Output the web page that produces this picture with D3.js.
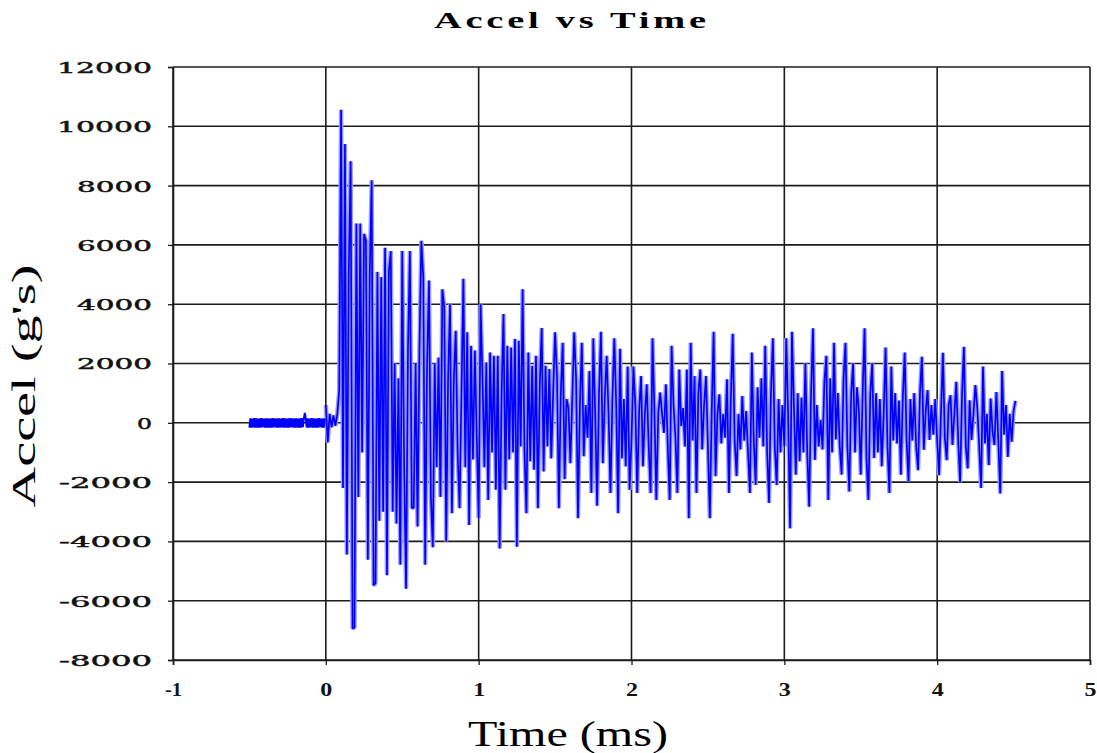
<!DOCTYPE html>
<html><head><meta charset="utf-8">
<script src="https://cdn.jsdelivr.net/npm/d3@7"></script>
<style>body{margin:0;background:#fff}svg{display:block}</style>
</head><body>
<svg id="chart" width="1097" height="753"></svg>
<script>
const chartTitle = "Accel vs Time";
const xLabel = "Time (ms)";
const yLabel = "Accel (g's)";
const xTicks = [-1, 0, 1, 2, 3, 4, 5];
const yTicks = [-8000, -6000, -4000, -2000, 0, 2000, 4000, 6000, 8000, 10000, 12000];

// pre-trigger noise, -0.5 .. 0 ms
const preTriggerStart = -0.5;      // ms
const preTriggerInterval = 0.00625; // ms
const preTrigger = [
 -160,150,-165,145,-155,160,-165,150,-160,145,
 -165,150,-160,160,-150,145,-165,150,-160,150,
 -165,145,-160,150,-165,160,-150,145,-160,150,
 -160,150,-165,145,-155,160,-165,150,-160,145,
 -165,150,-160,160,-150,145,-165,150,-160,150,
 -165,145,-160,150,-165,160,-150,145,330,150,
 -160,150,-165,145,-155,160,-165,150,-160,145,
 -165,150,-160,160,-150,145,-165,150,-160,150
];

// response, 0 .. 4.51 ms (8 samples per 0.1 ms)
const responseStart = 0;          // ms
const responseInterval = 0.0125;  // ms
const response = [
 600,-660,300,-150,250,-100,300,1080,
 10560,-2200,9400,-4440,5090,8820,-6940,-6900,
 6720,-2500,6720,-1000,6370,6140,-4620,5090,
 8180,-5490,-5400,5090,-3300,4920,-3000,5900,
 -5140,5090,5790,-3000,2000,-3400,1500,-4790,
 5790,-1500,-5600,2500,5790,-2870,-2870,2000,
 -3500,2500,6140,4920,-4790,2000,4800,-2500,
 -4200,2000,-1500,2200,-2500,4500,3900,-4000,
 1500,4000,-3050,1500,3100,-1000,-2880,1000,
 4860,-1500,3050,-3450,2600,-1240,2440,-500,
 -3220,4000,1580,-1500,2030,-2600,2370,-1000,
 2260,-2260,2260,-4240,1000,3670,-2260,2600,
 -1240,2540,-1000,2830,-4180,2770,-800,4500,
 -1000,-3050,2370,-1300,1920,-1580,2260,-2880,
 1300,3200,-1640,1920,-800,1810,-1200,1020,
 3050,1580,-2880,1000,2700,-1900,800,500,
 -1360,800,3050,1470,-3220,600,2700,-1130,
 600,-500,1750,-2370,2850,300,-2800,1000,
 3070,-1360,800,2260,300,-2370,800,2850,
 600,-3050,2500,-1200,800,-1470,1900,-2260,
 -600,1900,600,-2370,400,1580,-1470,300,
 1300,-800,-2370,2850,400,-2600,300,1020,
 300,-340,1300,-800,-2600,2600,600,-500,
 -2370,1800,-110,500,-800,1800,-3220,2700,
 -600,1580,-2370,1000,1800,-900,600,1580,
 -800,-3220,400,3070,-1800,300,960,-700,
 300,-500,1470,-2370,800,3000,-600,-1800,
 300,-900,900,-600,400,-1000,-2370,2370,
 -600,-2100,1200,-500,1500,-800,2600,-1000,
 -2700,1000,2850,-800,-2100,800,-1000,600,
 -800,2850,200,-3560,3070,600,-1750,1000,
 -1300,850,-1000,2000,-1000,-2830,1000,3190,
 -1250,600,-800,100,-900,1400,2260,-2600,
 1500,-1000,2700,-560,1000,-800,-1750,1500,
 2700,-800,-2320,1000,2000,-1000,1200,450,
 -1750,1000,3190,-1200,-2600,1000,2000,-1190,
 1000,-1000,800,-1470,300,2540,-800,-2370,
 1900,-600,1000,-700,750,-1750,800,2370,
 -600,-1980,800,-600,1000,-800,-1600,1000,
 2230,-910,400,1100,-580,600,-400,800,
 -600,-1770,300,2360,-500,-1260,600,930,
 -750,300,1380,-600,-2000,900,2560,-800,
 -1540,760,-580,300,1270,500,-800,-2200,
 1900,-700,300,-1430,820,-300,-750,1040,
 -600,-2380,1750,-400,600,-1150,300,-640,
 400,740
];

const svg = d3.select("#chart");
const plot = {left: 173, right: 1090, top: 67, bottom: 660};
const x = d3.scaleLinear().domain([-1, 5]).range([plot.left, plot.right]);
const y = d3.scaleLinear().domain([-8000, 12000]).range([plot.bottom, plot.top]);

const gridColor = "#1c1c1c";
const fmt = d => String(d); // ASCII hyphen-minus like the original

// gridlines
svg.append("g").selectAll("line").data(yTicks).join("line")
  .attr("x1", plot.left).attr("x2", plot.right)
  .attr("y1", d => y(d)).attr("y2", d => y(d))
  .attr("stroke", gridColor).attr("stroke-width", 1.6);
svg.append("g").selectAll("line").data(xTicks).join("line")
  .attr("x1", d => x(d)).attr("x2", d => x(d))
  .attr("y1", plot.top).attr("y2", plot.bottom)
  .attr("stroke", gridColor).attr("stroke-width", 1.6);

// axes (tick marks)
const yAxis = svg.append("g").attr("transform", `translate(${plot.left},0)`)
  .call(d3.axisLeft(y).tickValues(yTicks).tickSize(5).tickPadding(16).tickFormat(fmt));
const xAxis = svg.append("g").attr("transform", `translate(0,${plot.bottom})`)
  .call(d3.axisBottom(x).tickValues(xTicks).tickSize(5).tickPadding(18).tickFormat(fmt));
[yAxis, xAxis].forEach(a => {
  a.select(".domain").attr("stroke", gridColor).attr("stroke-width", 1.6);
  a.selectAll(".tick line").attr("stroke", gridColor).attr("stroke-width", 1.3);
});
yAxis.selectAll(".tick text")
  .attr("font-family", "'DejaVu Serif', serif").attr("font-size", 15).attr("font-weight", "normal")
  .attr("fill", "#111").attr("stroke", "#111").attr("stroke-width", 0.45).attr("dy", "0.36em")
  .attr("textLength", d => { const s = String(Math.abs(d)); return 20 * s.length - 5 + (d < 0 ? 18 : 0); })
  .attr("lengthAdjust", "spacingAndGlyphs");
xAxis.selectAll(".tick text")
  .attr("font-family", "'Liberation Serif', serif").attr("font-size", 19).attr("font-weight", "bold")
  .attr("fill", "#111")
  .attr("textLength", d => d < 0 ? 17 : 12)
  .attr("lengthAdjust", "spacingAndGlyphs");

// signal
const line = (t0, dt) => d3.line()
  .x((d, i) => x(t0 + i * dt))
  .y(d => y(d));
const lineResp = line(responseStart, responseInterval);
const linePre = line(preTriggerStart, preTriggerInterval);

// soft halo (anti-aliased fill look between dense strokes)
svg.append("path").datum(response).attr("d", lineResp)
  .attr("fill", "none").attr("stroke", "#9a9aff").attr("stroke-width", 4.4)
  .attr("stroke-linejoin", "bevel");
svg.append("path").datum(preTrigger).attr("d", linePre)
  .attr("fill", "none").attr("stroke", "#0000ff").attr("stroke-width", 2)
  .attr("stroke-linejoin", "bevel");
svg.append("path").datum(response).attr("d", lineResp)
  .attr("fill", "none").attr("stroke", "#0000ff").attr("stroke-width", 1.7)
  .attr("stroke-linejoin", "bevel");

// title
svg.append("text").attr("transform", "translate(570,28) scale(1.6,1)").attr("text-anchor", "middle")
  .attr("font-family", "'Liberation Serif', serif").attr("font-weight", "bold").attr("font-size", 24)
  .attr("textLength", 170).attr("lengthAdjust", "spacing")
  .text(chartTitle);

// x label
svg.append("text").attr("x", 568).attr("y", 746).attr("text-anchor", "middle")
  .attr("font-family", "'Liberation Serif', serif").attr("font-size", 35)
  .attr("textLength", 200).attr("lengthAdjust", "spacingAndGlyphs")
  .text(xLabel);

// y label
svg.append("text").attr("transform", "translate(35,386) rotate(-90)").attr("text-anchor", "middle")
  .attr("font-family", "'Liberation Serif', serif").attr("font-size", 33)
  .attr("textLength", 243).attr("lengthAdjust", "spacingAndGlyphs")
  .text(yLabel);
</script>
</body></html>
